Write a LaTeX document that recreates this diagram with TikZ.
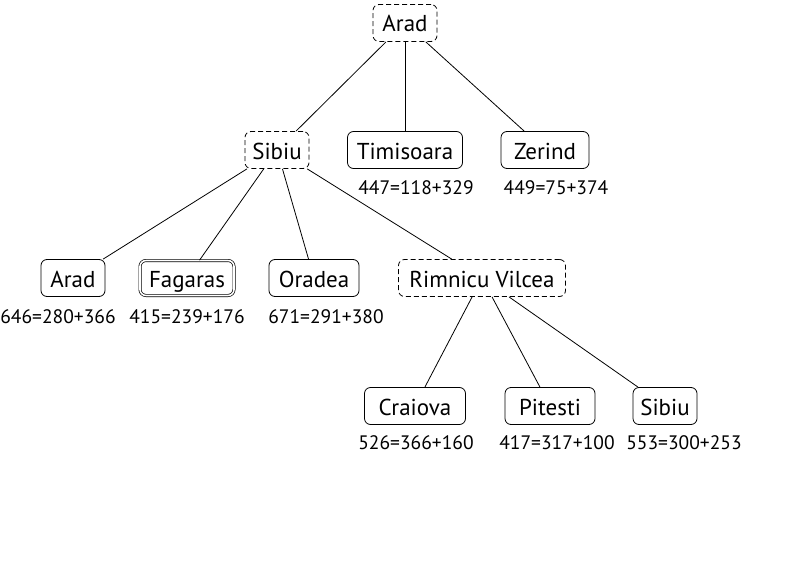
\documentclass[tikz,border=0pt]{standalone}
\usepackage{fontspec}
\setmainfont{PT Sans}
\begin{document}
\begin{tikzpicture}[x=1pt,y=-1pt,
  city/.style={draw, rounded corners=6pt, minimum height=37pt, inner xsep=4pt, inner ysep=2pt, text height=19pt, text depth=1pt, font=\fontsize{23}{27}\selectfont, line width=0.8pt},
  open/.style={city, dashed, dash pattern=on 5pt off 3pt},
  goal/.style={city, double, double distance=1.6pt, line width=0.7pt},
  cost/.style={font=\fontsize{19.5}{23}\selectfont, inner sep=0pt},
  edge/.style={line width=0.8pt}]
\useasboundingbox (0,0) rectangle (800,583);
\node[open, minimum width=64pt] (arad) at (405,23) {Arad};
\node[open, minimum width=64pt] (sibiu) at (277,150) {Sibiu};
\node[city, minimum width=115pt] (timi) at (405,150) {Timisoara};
\node[city, minimum width=88pt] (zer) at (545,150) {Zerind};
\node[city, minimum width=64pt] (arad2) at (73,278) {Arad};
\node[goal, minimum width=94pt, minimum height=35pt] (fag) at (187,278) {Fagaras};
\node[city, minimum width=90pt] (ora) at (314,278) {Oradea};
\node[open, minimum width=167pt] (rim) at (482,278) {Rimnicu Vilcea};
\node[city, minimum width=101pt] (cra) at (415,406) {Craiova};
\node[city, minimum width=90pt] (pit) at (550,406) {Pitesti};
\node[city, minimum width=64pt] (sib2) at (665,406) {Sibiu};
\node[cost] (ctimi) at (416,188) {447=118+329};
\node[cost] (czer) at (556,188) {449=75+374};
\node[cost] (carad2) at (58,317) {646=280+366};
\node[cost] (cfag) at (187,317) {415=239+176};
\node[cost] (cora) at (326,317) {671=291+380};
\node[cost] (ccra) at (416,443) {526=366+160};
\node[cost] (cpit) at (557,443) {417=317+100};
\node[cost] (csib2) at (684,443) {553=300+253};
\draw[edge] (arad) -- (sibiu);
\draw[edge] (arad) -- (timi);
\draw[edge] (arad) -- (zer);
\draw[edge] (sibiu) -- (arad2);
\draw[edge] (sibiu) -- (fag);
\draw[edge] (sibiu) -- (ora);
\draw[edge] (sibiu) -- (rim);
\draw[edge] (rim) -- (cra);
\draw[edge] (rim) -- (pit);
\draw[edge] (rim) -- (sib2);
\end{tikzpicture}
\end{document}
